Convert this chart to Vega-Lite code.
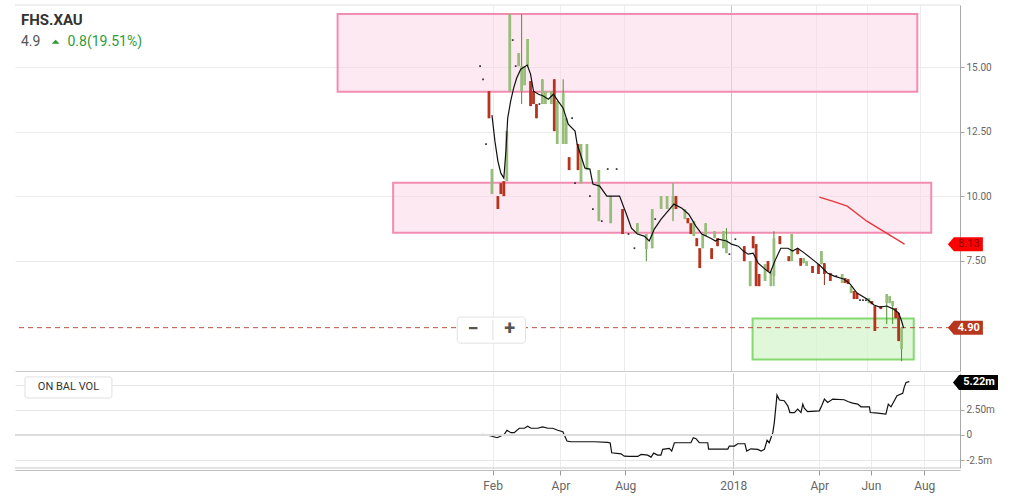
{
  "$schema": "https://vega.github.io/schema/vega-lite/v6.json",
  "padding": {"left": 14, "top": 4, "right": 5, "bottom": 5},
  "background": "white",
  "spacing": 2,
  "config": {
    "font": "Roboto",
    "view": {"stroke": null},
    "axis": {"labelFont": "Roboto", "labelColor": "#666", "title": null}
  },
  "datasets": {
    "candles": [
      {"t":155,"o":15.04,"h":15.04,"l":15.04,"c":15.04},
      {"t":156,"o":14.53,"h":14.53,"l":14.53,"c":14.53},
      {"t":157,"o":12.02,"h":12.02,"l":12.02,"c":12.02},
      {"t":158,"o":14.07,"h":14.07,"l":13.02,"c":13.02},
      {"t":159,"o":10.08,"h":11.05,"l":10.08,"c":11.05},
      {"t":161,"o":10.0,"h":10.0,"l":9.5,"c":9.5},
      {"t":162,"o":10.5,"h":10.5,"l":10.08,"c":10.08},
      {"t":163,"o":10.58,"h":10.58,"l":10.0,"c":10.0},
      {"t":164,"o":10.58,"h":12.52,"l":10.58,"c":12.52},
      {"t":165,"o":14.07,"h":17.05,"l":14.07,"c":17.05},
      {"t":166,"o":16.05,"h":16.05,"l":16.05,"c":16.05},
      {"t":167,"o":15.04,"h":15.04,"l":15.04,"c":15.04},
      {"t":168,"o":15.04,"h":15.54,"l":15.04,"c":15.54},
      {"t":169,"o":14.07,"h":17.05,"l":13.57,"c":15.04},
      {"t":170,"o":14.3,"h":15.04,"l":14.3,"c":15.04},
      {"t":171,"o":15.04,"h":16.09,"l":15.04,"c":16.09},
      {"t":172,"o":14.46,"h":14.46,"l":13.49,"c":13.49},
      {"t":173,"o":14.07,"h":14.07,"l":13.57,"c":13.57},
      {"t":174,"o":13.57,"h":13.57,"l":13.02,"c":13.02},
      {"t":175,"o":13.57,"h":13.57,"l":13.57,"c":13.57},
      {"t":176,"o":13.57,"h":14.53,"l":13.57,"c":14.53},
      {"t":177,"o":13.57,"h":14.07,"l":13.57,"c":14.07},
      {"t":179,"o":13.57,"h":14.07,"l":13.57,"c":14.07},
      {"t":180,"o":14.53,"h":14.53,"l":12.52,"c":12.52},
      {"t":181,"o":12.02,"h":13.68,"l":12.02,"c":13.68},
      {"t":183,"o":12.02,"h":14.53,"l":12.02,"c":13.99},
      {"t":184,"o":12.02,"h":13.02,"l":12.02,"c":13.02},
      {"t":185,"o":11.51,"h":11.51,"l":11.01,"c":11.01},
      {"t":186,"o":13.02,"h":13.02,"l":13.02,"c":13.02},
      {"t":187,"o":10.5,"h":10.5,"l":10.5,"c":10.5},
      {"t":188,"o":12.02,"h":12.02,"l":11.01,"c":11.01},
      {"t":189,"o":10.5,"h":12.02,"l":10.5,"c":12.02},
      {"t":191,"o":11.01,"h":12.02,"l":11.01,"c":12.02},
      {"t":192,"o":10.0,"h":10.0,"l":10.0,"c":10.0},
      {"t":193,"o":9.5,"h":9.5,"l":9.5,"c":9.5},
      {"t":195,"o":9.03,"h":11.01,"l":9.03,"c":11.01},
      {"t":196,"o":9.03,"h":9.03,"l":9.03,"c":9.03},
      {"t":198,"o":11.05,"h":11.05,"l":11.05,"c":11.05},
      {"t":199,"o":8.95,"h":10.0,"l":8.95,"c":10.0},
      {"t":201,"o":11.05,"h":11.05,"l":11.05,"c":11.05},
      {"t":203,"o":9.5,"h":9.5,"l":8.53,"c":8.53},
      {"t":205,"o":8.53,"h":8.53,"l":8.53,"c":8.53},
      {"t":207,"o":7.98,"h":7.98,"l":7.98,"c":7.98},
      {"t":208,"o":8.53,"h":8.95,"l":8.53,"c":8.95},
      {"t":211,"o":7.95,"h":8.53,"l":7.48,"c":8.53},
      {"t":213,"o":7.98,"h":9.5,"l":7.98,"c":9.5},
      {"t":214,"o":9.11,"h":9.11,"l":9.11,"c":9.11},
      {"t":216,"o":9.5,"h":10.0,"l":9.5,"c":10.0},
      {"t":218,"o":9.5,"h":10.0,"l":9.5,"c":10.0},
      {"t":220,"o":9.5,"h":10.5,"l":9.03,"c":10.0},
      {"t":221,"o":10.0,"h":10.0,"l":9.5,"c":9.5},
      {"t":224,"o":9.11,"h":9.5,"l":9.11,"c":9.5},
      {"t":225,"o":9.15,"h":9.15,"l":8.95,"c":8.95},
      {"t":226,"o":8.95,"h":8.95,"l":8.53,"c":8.53},
      {"t":227,"o":8.45,"h":9.03,"l":8.45,"c":9.03},
      {"t":228,"o":8.37,"h":8.37,"l":8.06,"c":8.06},
      {"t":229,"o":7.98,"h":7.98,"l":7.21,"c":7.21},
      {"t":230,"o":7.98,"h":8.53,"l":7.98,"c":8.53},
      {"t":231,"o":8.45,"h":8.95,"l":8.45,"c":8.95},
      {"t":233,"o":7.98,"h":7.98,"l":7.56,"c":7.56},
      {"t":234,"o":8.37,"h":8.64,"l":8.37,"c":8.64},
      {"t":235,"o":8.37,"h":8.37,"l":8.06,"c":8.06},
      {"t":237,"o":7.98,"h":8.64,"l":7.98,"c":8.64},
      {"t":238,"o":7.79,"h":8.76,"l":7.79,"c":8.33},
      {"t":239,"o":7.75,"h":7.75,"l":7.75,"c":7.75},
      {"t":241,"o":8.33,"h":8.33,"l":8.33,"c":8.33},
      {"t":244,"o":8.06,"h":8.06,"l":7.48,"c":7.48},
      {"t":246,"o":6.51,"h":7.48,"l":6.51,"c":7.48},
      {"t":247,"o":8.45,"h":8.45,"l":7.98,"c":7.98},
      {"t":248,"o":8.14,"h":8.14,"l":6.51,"c":6.51},
      {"t":249,"o":6.98,"h":6.98,"l":6.51,"c":6.51},
      {"t":251,"o":6.71,"h":7.36,"l":6.71,"c":7.36},
      {"t":252,"o":7.48,"h":7.48,"l":7.09,"c":7.09},
      {"t":253,"o":6.51,"h":7.09,"l":6.51,"c":7.09},
      {"t":254,"o":6.9,"h":8.64,"l":6.51,"c":8.37},
      {"t":256,"o":8.45,"h":8.45,"l":8.14,"c":8.14},
      {"t":259,"o":7.67,"h":7.67,"l":7.48,"c":7.48},
      {"t":260,"o":7.48,"h":8.53,"l":7.48,"c":8.53},
      {"t":262,"o":7.95,"h":7.95,"l":7.75,"c":7.75},
      {"t":263,"o":7.6,"h":7.6,"l":7.3,"c":7.3},
      {"t":264,"o":7.4,"h":7.6,"l":7.4,"c":7.6},
      {"t":265,"o":7.29,"h":7.48,"l":7.29,"c":7.48},
      {"t":267,"o":7.29,"h":7.29,"l":7.02,"c":7.02},
      {"t":269,"o":7.36,"h":7.36,"l":6.98,"c":6.98},
      {"t":270,"o":7.36,"h":7.87,"l":7.36,"c":7.87},
      {"t":271,"o":7.4,"h":7.4,"l":6.55,"c":6.98},
      {"t":273,"o":7.02,"h":7.02,"l":6.71,"c":6.71},
      {"t":275,"o":6.9,"h":6.9,"l":6.9,"c":6.9},
      {"t":277,"o":6.63,"h":6.98,"l":6.63,"c":6.98},
      {"t":278,"o":6.82,"h":6.82,"l":6.63,"c":6.63},
      {"t":279,"o":6.78,"h":6.78,"l":6.59,"c":6.59},
      {"t":280,"o":6.24,"h":6.51,"l":6.24,"c":6.51},
      {"t":281,"o":6.32,"h":6.32,"l":6.01,"c":6.01},
      {"t":282,"o":6.24,"h":6.24,"l":6.01,"c":6.01},
      {"t":283,"o":5.97,"h":5.97,"l":5.97,"c":5.97},
      {"t":284,"o":5.97,"h":5.97,"l":5.97,"c":5.97},
      {"t":285,"o":5.97,"h":5.97,"l":5.97,"c":5.97},
      {"t":286,"o":5.85,"h":6.05,"l":5.85,"c":6.05},
      {"t":287,"o":5.93,"h":5.93,"l":5.81,"c":5.81},
      {"t":288,"o":5.74,"h":5.74,"l":4.77,"c":4.77},
      {"t":290,"o":5.74,"h":5.74,"l":5.62,"c":5.62},
      {"t":292,"o":5.85,"h":6.2,"l":5.04,"c":6.2},
      {"t":293,"o":5.85,"h":6.12,"l":5.85,"c":6.12},
      {"t":294,"o":5.74,"h":5.93,"l":5.04,"c":5.93},
      {"t":295,"o":5.66,"h":5.66,"l":5.27,"c":5.27},
      {"t":296,"o":5.47,"h":5.47,"l":4.38,"c":4.38},
      {"t":297,"o":4.07,"h":4.9,"l":3.6,"c":4.9}
    ],
    "ma": [
      {"t":159.0,"p":13.14},{"t":160.0,"p":12.13},{"t":161.0,"p":11.36},{"t":162.0,"p":10.89},
      {"t":163.0,"p":10.70},{"t":163.7,"p":11.74},{"t":164.3,"p":13.02},{"t":165.3,"p":13.68},
      {"t":166.3,"p":14.19},{"t":167.3,"p":14.57},{"t":168.7,"p":14.92},{"t":170.9,"p":15.08},
      {"t":172.0,"p":14.73},{"t":173.0,"p":14.07},{"t":174.7,"p":13.95},{"t":176.3,"p":13.88},
      {"t":178.0,"p":13.76},{"t":179.7,"p":13.95},{"t":181.3,"p":13.68},{"t":183.0,"p":13.41},
      {"t":184.7,"p":12.79},{"t":187.0,"p":12.52},{"t":187.7,"p":12.02},{"t":190.3,"p":11.09},
      {"t":192.0,"p":11.05},{"t":193.0,"p":10.47},{"t":195.3,"p":10.39},{"t":197.7,"p":10.0},
      {"t":199.7,"p":10.0},{"t":202.0,"p":10.0},{"t":204.3,"p":9.30},{"t":206.0,"p":8.76},
      {"t":208.0,"p":8.53},{"t":210.3,"p":8.45},{"t":212.0,"p":8.26},{"t":213.7,"p":8.72},
      {"t":216.0,"p":9.11},{"t":217.7,"p":9.34},{"t":220.3,"p":9.69},{"t":223.0,"p":9.53},
      {"t":225.3,"p":9.30},{"t":227.7,"p":8.84},{"t":229.7,"p":8.53},{"t":232.7,"p":8.37},
      {"t":234.3,"p":8.26},{"t":235.3,"p":8.33},{"t":238.0,"p":8.26},{"t":239.7,"p":8.14},
      {"t":242.0,"p":8.06},{"t":243.7,"p":7.87},{"t":245.3,"p":7.75},{"t":247.0,"p":7.79},
      {"t":248.7,"p":7.40},{"t":251.0,"p":7.17},{"t":252.7,"p":7.02},{"t":254.3,"p":7.48},
      {"t":256.3,"p":7.98},{"t":258.7,"p":7.98},{"t":260.3,"p":7.87},{"t":262.0,"p":7.98},
      {"t":264.3,"p":7.79},{"t":267.7,"p":7.48},{"t":269.7,"p":7.29},{"t":272.0,"p":7.02},
      {"t":274.3,"p":6.90},{"t":277.7,"p":6.78},{"t":279.7,"p":6.59},{"t":282.0,"p":6.24},
      {"t":285.3,"p":6.01},{"t":287.7,"p":5.78},{"t":289.7,"p":5.70},{"t":292.0,"p":5.74},
      {"t":294.3,"p":5.62},{"t":296.0,"p":5.47},{"t":297.0,"p":5.16},{"t":297.7,"p":4.88}
    ],
    "obv": [
      {"t":155.9,"v":0.07},{"t":158.7,"v":-0.10},{"t":160.7,"v":-0.27},{"t":162.0,"v":-0.10},
      {"t":163.1,"v":0.07},{"t":164.0,"v":0.47},{"t":165.3,"v":0.23},{"t":166.4,"v":0.23},
      {"t":168.1,"v":0.67},{"t":169.8,"v":0.67},{"t":170.9,"v":0.87},{"t":172.0,"v":0.67},
      {"t":174.2,"v":0.67},{"t":175.9,"v":0.8},{"t":177.6,"v":0.67},{"t":179.2,"v":0.67},
      {"t":180.9,"v":0.47},{"t":182.6,"v":0.33},{"t":184.0,"v":-0.6},{"t":185.3,"v":-0.67},
      {"t":188.7,"v":-0.67},{"t":193.1,"v":-0.67},{"t":197.6,"v":-0.73},{"t":198.4,"v":-0.8},
      {"t":198.9,"v":-1.77},{"t":202.0,"v":-1.87},{"t":203.1,"v":-2.1},{"t":204.8,"v":-2.13},
      {"t":207.6,"v":-2.13},{"t":208.7,"v":-1.93},{"t":210.9,"v":-2.0},{"t":212.0,"v":-2.2},
      {"t":212.9,"v":-1.8},{"t":214.2,"v":-2.0},{"t":215.3,"v":-2.0},{"t":215.9,"v":-1.43},
      {"t":218.1,"v":-1.33},{"t":218.9,"v":-1.6},{"t":219.8,"v":-0.77},{"t":222.0,"v":-0.77},
      {"t":225.3,"v":-0.77},{"t":226.1,"v":-0.27},{"t":227.0,"v":-0.37},{"t":228.1,"v":-0.77},
      {"t":230.9,"v":-0.77},{"t":231.2,"v":-1.4},{"t":233.1,"v":-1.4},{"t":237.6,"v":-1.4},
      {"t":238.1,"v":-1.1},{"t":239.8,"v":-1.1},{"t":240.9,"v":-0.87},{"t":243.3,"v":-0.87},
      {"t":243.9,"v":-1.6},{"t":245.3,"v":-1.37},{"t":247.6,"v":-1.43},{"t":248.7,"v":-1.6},
      {"t":249.8,"v":-1.43},{"t":250.7,"v":-0.53},{"t":251.4,"v":-0.77},{"t":252.6,"v":0.23},
      {"t":253.1,"v":1.23},{"t":254.0,"v":3.97},{"t":254.8,"v":3.47},{"t":256.4,"v":3.4},
      {"t":257.6,"v":2.9},{"t":258.3,"v":2.23},{"t":259.8,"v":2.23},{"t":260.9,"v":2.57},
      {"t":262.0,"v":2.23},{"t":262.6,"v":3.07},{"t":263.1,"v":2.67},{"t":264.2,"v":2.33},
      {"t":268.1,"v":2.4},{"t":268.9,"v":2.9},{"t":269.8,"v":3.57},{"t":270.9,"v":3.23},
      {"t":272.6,"v":3.57},{"t":276.4,"v":3.5},{"t":277.6,"v":3.33},{"t":279.2,"v":3.17},
      {"t":280.9,"v":3.07},{"t":282.0,"v":2.8},{"t":284.8,"v":2.8},{"t":285.1,"v":2.23},
      {"t":287.6,"v":2.17},{"t":290.3,"v":2.07},{"t":291.1,"v":3.07},{"t":292.0,"v":2.8},
      {"t":293.1,"v":3.4},{"t":294.0,"v":3.9},{"t":295.9,"v":4.13},{"t":296.4,"v":4.73},
      {"t":297.0,"v":5.22},{"t":298.1,"v":5.3}
    ]
  },
  "vconcat": [
    {
      "width": 945,
      "height": 366,
      "layer": [
        {
          "data": {"values": [
            {"zone": "upper", "t1": 107, "t2": 302.3, "p1": 14.05, "p2": 17.06},
            {"zone": "middle", "t1": 125.7, "t2": 307, "p1": 8.58, "p2": 10.52}
          ]},
          "mark": {"type": "rect", "fill": "#fbd3e6", "fillOpacity": 0.5, "stroke": "#f28db2", "strokeWidth": 2},
          "encoding": {
            "x": {"field": "t1", "type": "quantitative",
              "scale": {"domain": [0, 315], "nice": false, "zero": false},
              "axis": {
                "orient": "bottom",
                "values": [159.2, 181.8, 203.4, 239.4, 268.1, 285.3, 303.1],
                "tickCount": 20,
                "labels": false, "ticks": false,
                "domain": true, "domainColor": "#c8c8c8",
                "grid": true,
                "gridColor": {"condition": {"test": "datum.value == 239.4", "value": "#c6c6c6"}, "value": "#ececec"}
              }},
            "x2": {"field": "t2"},
            "y": {"field": "p1", "type": "quantitative",
              "scale": {"domain": [3.22, 17.41], "nice": false, "zero": false},
              "axis": {
                "orient": "right",
                "values": [7.5, 10, 12.5, 15],
                "tickCount": 20,
                "format": ".2f",
                "grid": true, "gridColor": "#ebebeb",
                "domain": true, "domainColor": "#a8a8a8",
                "tickColor": "#a8a8a8", "tickSize": 4,
                "labelFontSize": 10, "labelPadding": 2
              }},
            "y2": {"field": "p2"}
          }
        },
        {
          "data": {"values": [{"zone": "target", "t1": 246.8, "t2": 301.1, "p1": 3.67, "p2": 5.26}]},
          "mark": {"type": "rect", "fill": "#d6f5cc", "fillOpacity": 0.75, "stroke": "#86d873", "strokeWidth": 2},
          "encoding": {
            "x": {"field": "t1", "type": "quantitative"},
            "x2": {"field": "t2"},
            "y": {"field": "p1", "type": "quantitative"},
            "y2": {"field": "p2"}
          }
        },
        {
          "data": {"values": [{"p": 17.41}]},
          "mark": {"type": "rule", "color": "#e0e0e0", "strokeWidth": 1},
          "encoding": {"y": {"field": "p", "type": "quantitative"}}
        },
        {
          "data": {"values": [{"p": 4.9}]},
          "mark": {"type": "rule", "color": "#b5533f", "strokeWidth": 1, "strokeDash": [5, 4]},
          "encoding": {"y": {"field": "p", "type": "quantitative"}}
        },
        {
          "data": {"name": "candles"},
          "mark": {"type": "rule", "strokeWidth": 1},
          "encoding": {
            "x": {"field": "t", "type": "quantitative"},
            "y": {"field": "l", "type": "quantitative"},
            "y2": {"field": "h"},
            "color": {"condition": {"test": "datum.c >= datum.o", "value": "#4d8f2e"}, "value": "#8e2a1a"}
          }
        },
        {
          "data": {"name": "candles"},
          "mark": {"type": "bar", "size": 2.8},
          "encoding": {
            "x": {"field": "t", "type": "quantitative"},
            "y": {"field": "o", "type": "quantitative"},
            "y2": {"field": "c"},
            "color": {"condition": {"test": "datum.c >= datum.o", "value": "#97bd7a"}, "value": "#b5331f"}
          }
        },
        {
          "data": {"name": "candles"},
          "transform": [{"filter": "datum.o == datum.c"}],
          "mark": {"type": "square", "size": 3, "color": "#333", "opacity": 1},
          "encoding": {
            "x": {"field": "t", "type": "quantitative"},
            "y": {"field": "o", "type": "quantitative"}
          }
        },
        {
          "data": {"name": "ma"},
          "mark": {"type": "line", "color": "#111", "strokeWidth": 1.2},
          "encoding": {
            "x": {"field": "t", "type": "quantitative"},
            "y": {"field": "p", "type": "quantitative"}
          }
        },
        {
          "data": {"values": [
            {"t": 269.3, "p": 9.96}, {"t": 273.7, "p": 9.81}, {"t": 278.7, "p": 9.61},
            {"t": 285.3, "p": 9.03}, {"t": 298.0, "p": 8.14}
          ]},
          "mark": {"type": "line", "color": "#e8343a", "strokeWidth": 1.3},
          "encoding": {
            "x": {"field": "t", "type": "quantitative"},
            "y": {"field": "p", "type": "quantitative"}
          }
        },
        {
          "data": {"values": [{"t1": 147.3, "t2": 170.3, "p1": 4.3, "p2": 5.31}]},
          "mark": {"type": "rect", "fill": "white", "stroke": "#e2e2e2", "strokeWidth": 1, "cornerRadius": 3},
          "encoding": {
            "x": {"field": "t1", "type": "quantitative"},
            "x2": {"field": "t2"},
            "y": {"field": "p1", "type": "quantitative"},
            "y2": {"field": "p2"}
          }
        },
        {
          "data": {"values": [{"t": 159.33, "p1": 4.42, "p2": 5.2}]},
          "mark": {"type": "rule", "color": "#dddddd"},
          "encoding": {
            "x": {"field": "t", "type": "quantitative"},
            "y": {"field": "p1", "type": "quantitative"},
            "y2": {"field": "p2"}
          }
        },
        {
          "data": {"values": [{"t": 152.67, "p": 4.83, "label": "−"}, {"t": 165, "p": 4.83, "label": "+"}]},
          "mark": {"type": "text", "fontSize": 20, "fontWeight": "bold", "color": "#555", "align": "center", "baseline": "middle"},
          "encoding": {
            "x": {"field": "t", "type": "quantitative"},
            "y": {"field": "p", "type": "quantitative"},
            "text": {"field": "label"}
          }
        },
        {
          "data": {"values": [{"t": 0.33, "p": 16.63, "label": "FHS.XAU"}]},
          "mark": {"type": "text", "fontSize": 15, "fontWeight": "bold", "color": "#333", "align": "left", "baseline": "alphabetic"},
          "encoding": {
            "x": {"field": "t", "type": "quantitative"},
            "y": {"field": "p", "type": "quantitative"},
            "text": {"field": "label"}
          }
        },
        {
          "data": {"values": [{"t": 0.33, "p": 15.81, "label": "4.9"}]},
          "mark": {"type": "text", "fontSize": 14, "color": "#555", "align": "left", "baseline": "alphabetic"},
          "encoding": {
            "x": {"field": "t", "type": "quantitative"},
            "y": {"field": "p", "type": "quantitative"},
            "text": {"field": "label"}
          }
        },
        {
          "data": {"values": [{"t": 16, "p": 15.81, "label": "0.8(19.51%)"}]},
          "mark": {"type": "text", "fontSize": 14, "color": "#2e9b3a", "align": "left", "baseline": "alphabetic"},
          "encoding": {
            "x": {"field": "t", "type": "quantitative"},
            "y": {"field": "p", "type": "quantitative"},
            "text": {"field": "label"}
          }
        },
        {
          "data": {"values": [{"t": 12, "p": 15.99}]},
          "mark": {"type": "point", "shape": "M-1,0.5L1,0.5L0,-0.5Z", "size": 64, "filled": true, "color": "#2e9b3a", "opacity": 1},
          "encoding": {
            "x": {"field": "t", "type": "quantitative"},
            "y": {"field": "p", "type": "quantitative"}
          }
        },
        {
          "data": {"values": [{"t": 319, "p": 8.13}]},
          "mark": {"type": "point", "shape": "M-1.9,0L-1.3,-0.7L1.6,-0.7L1.6,0.7L-1.3,0.7Z", "size": 400, "filled": true, "color": "#ff0000", "opacity": 1},
          "encoding": {
            "x": {"field": "t", "type": "quantitative"},
            "y": {"field": "p", "type": "quantitative"}
          }
        },
        {
          "data": {"values": [{"t": 319, "p": 4.9}]},
          "mark": {"type": "point", "shape": "M-1.9,0L-1.3,-0.7L1.6,-0.7L1.6,0.7L-1.3,0.7Z", "size": 400, "filled": true, "color": "#b8361c", "opacity": 1},
          "encoding": {
            "x": {"field": "t", "type": "quantitative"},
            "y": {"field": "p", "type": "quantitative"}
          }
        },
        {
          "data": {"values": [{"t": 319, "p": 8.13, "label": "8.13"}]},
          "mark": {"type": "text", "fontSize": 11, "color": "#8a0000", "align": "center", "baseline": "middle", "dx": 2},
          "encoding": {
            "x": {"field": "t", "type": "quantitative"},
            "y": {"field": "p", "type": "quantitative"},
            "text": {"field": "label"}
          }
        },
        {
          "data": {"values": [{"t": 319, "p": 4.9, "label": "4.90"}]},
          "mark": {"type": "text", "fontSize": 11, "fontWeight": "bold", "color": "white", "align": "center", "baseline": "middle", "dx": 2},
          "encoding": {
            "x": {"field": "t", "type": "quantitative"},
            "y": {"field": "p", "type": "quantitative"},
            "text": {"field": "label"}
          }
        }
      ]
    },
    {
      "width": 945,
      "height": 95,
      "layer": [
        {
          "data": {"name": "obv"},
          "mark": {"type": "line", "color": "#111", "strokeWidth": 1.2},
          "encoding": {
            "x": {"field": "t", "type": "quantitative",
              "scale": {"domain": [0, 315], "nice": false, "zero": false},
              "axis": {
                "orient": "bottom",
                "values": [159.2, 181.8, 203.4, 239.4, 268.1, 285.3, 303.1],
                "tickCount": 20,
                "labelExpr": "datum.value == 159.2 ? 'Feb' : datum.value == 181.8 ? 'Apr' : datum.value == 203.4 ? 'Aug' : datum.value == 239.4 ? '2018' : datum.value == 268.1 ? 'Apr' : datum.value == 285.3 ? 'Jun' : 'Aug'",
                "labelOverlap": false, "labelFlush": false,
                "labelFontSize": 12, "labelPadding": 5,
                "offset": 2,
                "domain": true, "domainColor": "#bdbdbd",
                "ticks": true, "tickColor": "#999", "tickSize": 5,
                "grid": true,
                "gridColor": {"condition": {"test": "datum.value == 239.4", "value": "#c6c6c6"}, "value": "#ececec"}
              }},
            "y": {"field": "v", "type": "quantitative",
              "scale": {"domain": [-3.28, 6.16], "nice": false, "zero": false},
              "axis": {
                "orient": "right",
                "values": [-2.5, 0, 2.5, 5],
                "tickCount": 20,
                "labelExpr": "datum.value > 4 ? '' : datum.value > 1 ? '2.50m' : datum.value > -1 ? '0' : '-2.5m'",
                "labelOverlap": false,
                "labelFlush": false,
                "grid": true,
                "gridColor": "#e6e6e6",
                "domain": true, "domainColor": "#a8a8a8",
                "tickColor": "#a8a8a8", "tickSize": 4,
                "labelFontSize": 10, "labelPadding": 2
              }}
          }
        },
        {
          "data": {"values": [{"v": 0}]},
          "mark": {"type": "rule", "color": "#dcdcdc", "strokeWidth": 2},
          "encoding": {"y": {"field": "v", "type": "quantitative"}}
        },
        {
          "data": {"values": [{"v": -3.28}]},
          "mark": {"type": "rule", "color": "#c8c8c8", "strokeWidth": 1},
          "encoding": {"y": {"field": "v", "type": "quantitative"}}
        },
        {
          "data": {"values": [{"t1": 3.33, "t2": 32.3, "v1": 3.68, "v2": 5.77}]},
          "mark": {"type": "rect", "fill": "white", "stroke": "#e0e0e0", "strokeWidth": 1, "cornerRadius": 2},
          "encoding": {
            "x": {"field": "t1", "type": "quantitative"},
            "x2": {"field": "t2"},
            "y": {"field": "v1", "type": "quantitative"},
            "y2": {"field": "v2"}
          }
        },
        {
          "data": {"values": [{"t": 17.83, "v": 4.72, "label": "ON BAL VOL"}]},
          "mark": {"type": "text", "fontSize": 11, "color": "#333", "align": "center", "baseline": "middle"},
          "encoding": {
            "x": {"field": "t", "type": "quantitative"},
            "y": {"field": "v", "type": "quantitative"},
            "text": {"field": "label"}
          }
        },
        {
          "data": {"values": [{"t": 319, "v": 5.22}]},
          "mark": {"type": "point", "shape": "M-1.9,0L-1.3,-0.75L2.6,-0.75L2.6,0.75L-1.3,0.75Z", "size": 400, "filled": true, "color": "#000000", "opacity": 1},
          "encoding": {
            "x": {"field": "t", "type": "quantitative"},
            "y": {"field": "v", "type": "quantitative"}
          }
        },
        {
          "data": {"values": [{"t": 319, "v": 5.22, "label": "5.22m"}]},
          "mark": {"type": "text", "fontSize": 11, "fontWeight": "bold", "color": "white", "align": "center", "baseline": "middle", "dx": 7},
          "encoding": {
            "x": {"field": "t", "type": "quantitative"},
            "y": {"field": "v", "type": "quantitative"},
            "text": {"field": "label"}
          }
        }
      ]
    }
  ]
}
